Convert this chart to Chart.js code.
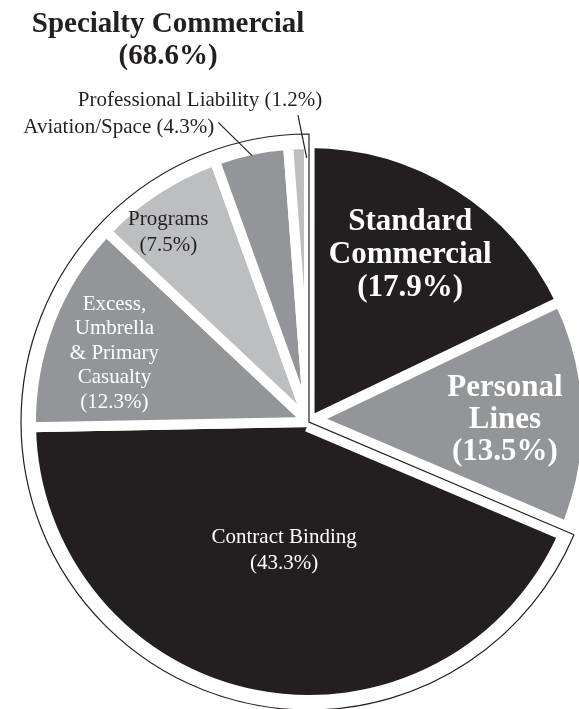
<!DOCTYPE html>
<html>
<head>
<meta charset="utf-8">
<script src="https://cdn.jsdelivr.net/npm/chart.js@4.4.0/dist/chart.umd.min.js"></script>
<style>
  html, body { margin: 0; padding: 0; background: #fff; }
  canvas { display: block; }
</style>
</head>
<body>
<canvas id="chart" width="579" height="709"></canvas>
<script>
// slices, clockwise from 12 o'clock
const segments = ['Standard Commercial', 'Personal Lines', 'Contract Binding',
  'Excess, Umbrella & Primary Casualty', 'Programs', 'Aviation/Space', 'Professional Liability'];
const shares = [17.9, 13.5, 43.3, 12.3, 7.5, 4.3, 1.2];
// how each name is broken over lines inside the pie
const labelLines = [['Standard', 'Commercial'], ['Personal', 'Lines'], ['Contract Binding'],
  ['Excess,', 'Umbrella', '& Primary', 'Casualty'], ['Programs'], ['Aviation/Space'], ['Professional Liability']];
// the group outlined on the left
const groupName = 'Specialty Commercial';
const groupMembers = [2, 3, 4, 5, 6];

const INK = '#231f20';
const colours = [INK, '#939598', INK, '#939598', '#bcbec0', '#939598', '#bcbec0'];
const offsets = [4, 0, 0, 0, 0, 0, 0];

const BOLD = (s) => 'bold ' + s + 'px "Liberation Serif", "Times New Roman", serif';
const REG = (s) => s + 'px "Liberation Serif", "Times New Roman", serif';

// label placement: f = fraction of radius along the slice's mid angle
const labelStyle = [
  { f: 0.71, dx: -4, dy: 0, font: BOLD(31), lh: 33, color: '#fff' },
  { f: 0.705, dx: 0, dy: 2, font: BOLD(31), lh: 32, color: '#fff' },
  { f: 0.47, dx: 0, dy: 0, font: REG(21), lh: 26, color: '#fff' },
  { f: 0.75, dx: 0, dy: 6, font: REG(21), lh: 24.5, color: '#fff' },
  { f: 0.85, dx: -11, dy: 8, font: REG(21), lh: 26, color: INK },
  { outside: true, tip: [0.98, 0], from: [1.126, -4.8], tx: -4, ty: 5, align: 'right', font: REG(21), color: INK },
  { outside: true, tip: [0.95, 1.66], from: [1.105, 0.1], tx: -98, ty: -15, align: 'center', font: REG(21), color: INK }
];

const pct = (v) => '(' + v.toFixed(1) + '%)';

const groupOutline = {
  id: 'groupOutline',
  afterDatasetsDraw(chart) {
    const arcs = chart.getDatasetMeta(0).data;
    const first = arcs[groupMembers[0]];
    const last = arcs[groupMembers[groupMembers.length - 1]];
    const { x, y, outerRadius } = first;
    const a0 = first.startAngle, a1 = last.endAngle;
    const ctx = chart.ctx;
    ctx.save();
    // wider white gap between the group and Personal Lines
    ctx.strokeStyle = '#fff';
    ctx.lineWidth = 20;
    ctx.beginPath();
    ctx.moveTo(x, y);
    ctx.lineTo(x + (outerRadius + 6) * Math.cos(a0), y + (outerRadius + 6) * Math.sin(a0));
    ctx.stroke();

    const r = outerRadius + 10;
    ctx.strokeStyle = INK;
    ctx.lineWidth = 1.2;
    ctx.beginPath();
    ctx.moveTo(x + r * Math.cos(a0), y + r * Math.sin(a0));
    ctx.lineTo(x, y);
    ctx.lineTo(x + r * Math.cos(a1), y + r * Math.sin(a1));
    ctx.arc(x, y, r, a1, a0, true);
    ctx.stroke();

    // group title
    const total = groupMembers.reduce((s, i) => s + shares[i], 0);
    ctx.fillStyle = INK;
    ctx.font = BOLD(29);
    ctx.textAlign = 'center';
    ctx.textBaseline = 'middle';
    ctx.fillText(groupName, x - 141, y - 397);
    ctx.fillText(pct(total), x - 141, y - 365);
    ctx.restore();
  }
};

const sliceLabels = {
  id: 'sliceLabels',
  afterDatasetsDraw(chart) {
    const arcs = chart.getDatasetMeta(0).data;
    const ctx = chart.ctx;
    const rad = Math.PI / 180;
    ctx.save();
    ctx.textBaseline = 'middle';
    arcs.forEach((arc, i) => {
      const st = labelStyle[i];
      const R = arc.outerRadius;
      const mid = (arc.startAngle + arc.endAngle) / 2;
      ctx.font = st.font;
      ctx.fillStyle = st.color;
      if (st.outside) {
        const at = (p) => [arc.x + p[0] * R * Math.cos(mid + p[1] * rad), arc.y + p[0] * R * Math.sin(mid + p[1] * rad)];
        const tip = at(st.tip), from = at(st.from);
        ctx.strokeStyle = INK;
        ctx.lineWidth = 1.2;
        ctx.beginPath();
        ctx.moveTo(from[0], from[1]);
        ctx.lineTo(tip[0], tip[1]);
        ctx.stroke();
        ctx.textAlign = st.align;
        ctx.fillText(labelLines[i].join(' ') + ' ' + pct(shares[i]), from[0] + st.tx, from[1] + st.ty);
      } else {
        const lines = labelLines[i].concat([pct(shares[i])]);
        const cx = arc.x + st.f * R * Math.cos(mid) + st.dx;
        const cy = arc.y + st.f * R * Math.sin(mid) + st.dy;
        ctx.textAlign = 'center';
        lines.forEach((t, k) => {
          ctx.fillText(t, cx, cy + (k - (lines.length - 1) / 2) * st.lh);
        });
      }
    });
    ctx.restore();
  }
};

new Chart(document.getElementById('chart'), {
  type: 'pie',
  data: {
    labels: segments,
    datasets: [{
      data: shares,
      backgroundColor: colours,
      borderColor: '#fff',
      borderWidth: 10,
      offset: offsets,
      hoverOffset: 0
    }]
  },
  options: {
    responsive: false,
    animation: false,
    events: [],
    radius: 278,
    layout: { padding: { left: 39, top: 135 } },
    plugins: {
      legend: { display: false },
      tooltip: { enabled: false }
    }
  },
  plugins: [groupOutline, sliceLabels]
});
</script>
</body>
</html>
